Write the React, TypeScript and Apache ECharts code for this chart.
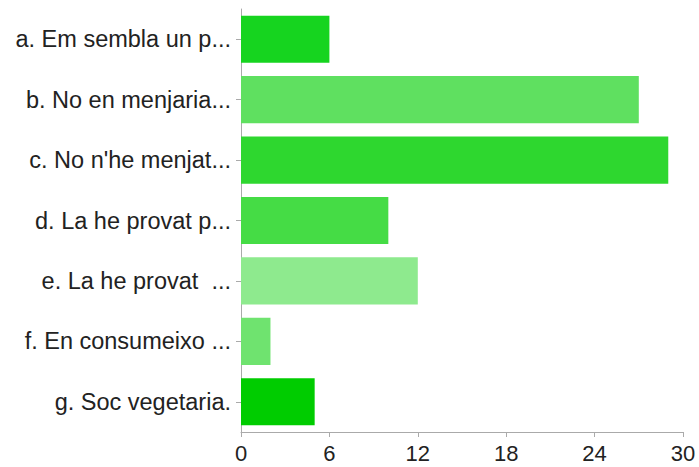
import React, { useEffect, useRef } from "react";
import * as echarts from "echarts";

const categories = [
  "a. Em sembla un p...",
  "b. No en menjaria...",
  "c. No n'he menjat...",
  "d. La he provat p...",
  "e. La he provat  ...",
  "f. En consumeixo ...",
  "g. Soc vegetaria.",
];
const values = [6, 27, 29, 10, 12, 2, 5];
const barColors = ["#16d41f", "#5fe060", "#2ed72f", "#45dc45", "#8eea8e", "#6fe36f", "#00cc00"];
const xTicks = [0, 6, 12, 18, 24, 30];

export default function App() {
  const ref = useRef<HTMLDivElement>(null);
  useEffect(() => {
    if (!ref.current) return;
    const chart = echarts.init(ref.current, undefined, { renderer: "svg" });
    chart.setOption({
      animation: false,
      grid: { left: 241, right: 16, top: 9, bottom: 35, containLabel: false },
      xAxis: {
        type: "value",
        min: xTicks[0],
        max: xTicks[xTicks.length - 1],
        interval: 6,
        splitLine: { show: false },
        axisLine: { show: true, lineStyle: { color: "#aaaaaa", width: 1 } },
        axisTick: { show: true, length: 5, lineStyle: { color: "#aaaaaa" } },
        axisLabel: { color: "#222222", fontSize: 22, fontFamily: "Liberation Sans, Arial, sans-serif", margin: 10 },
      },
      yAxis: {
        type: "category",
        data: categories,
        inverse: true,
        axisLine: { show: true, lineStyle: { color: "#aaaaaa", width: 1 } },
        axisTick: { show: true, alignWithLabel: true, length: 5, lineStyle: { color: "#aaaaaa" } },
        axisLabel: { color: "#222222", fontSize: 23.5, fontFamily: "Liberation Sans, Arial, sans-serif", margin: 10 },
      },
      series: [
        {
          type: "bar",
          data: values.map((v, i) => ({ value: v, itemStyle: { color: barColors[i] } })),
          barWidth: "78%",
        },
      ],
    });
    return () => chart.dispose();
  }, []);
  return <div ref={ref} style={{ position: "absolute", left: 0, top: 0, width: 699, height: 467 }} />;
}
